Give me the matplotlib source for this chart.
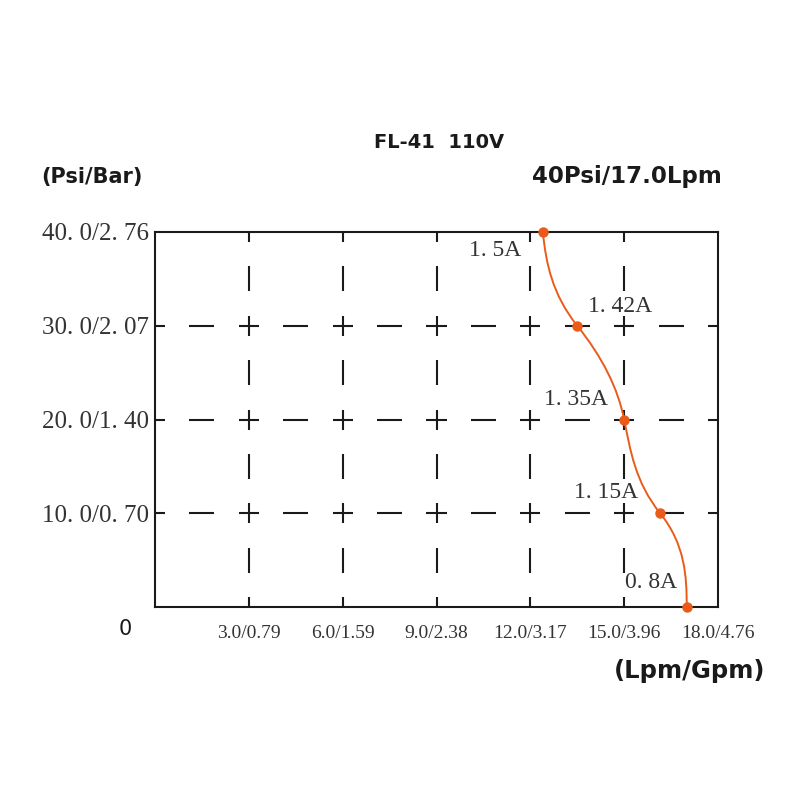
import numpy as np
import matplotlib
matplotlib.use('Agg')
import matplotlib.pyplot as plt
from matplotlib.path import Path
from matplotlib.patches import PathPatch

# pump curve data, top point first
flow_lpm = [12.4, 13.5, 15.0, 16.15, 17.0]
pressure_psi = [40, 30, 20, 10, 0]
amps = ['1. 5A', '1. 42A', '1. 35A', '1. 15A', '0. 8A']

x_ticks = [3, 6, 9, 12, 15, 18]
x_labels = ['3.0/0.79', '6.0/1.59', '9.0/2.38', '12.0/3.17', '15.0/3.96', '18.0/4.76']
y_ticks = [10, 20, 30, 40]
y_labels = ['10. 0/0. 70', '20. 0/1. 40', '30. 0/2. 07', '40. 0/2. 76']

ORANGE = '#EA5B1A'
INK = '#1a1a1a'
GREY = '#333333'

fig = plt.figure(figsize=(8, 8), dpi=100)
ax = fig.add_axes([155/800, 1-607/800, 563/800, 375/800])
ax.set_xlim(0, 18)
ax.set_ylim(0, 40)

for s in ax.spines.values():
    s.set_linewidth(1.5)
    s.set_color(INK)

# dashed grid with crosses at every intersection
px_x = 563/18.0   # pixels per Lpm
px_y = 375/40.0   # pixels per Psi
arm, half_dash = 10, 12.5  # in pixels
gkw = dict(color=INK, lw=1.5, solid_capstyle='butt', zorder=1)
for yv in y_ticks[:-1]:
    for cx in range(0, 19, 3):
        ax.plot([cx - arm/px_x, cx + arm/px_x], [yv, yv], **gkw)
    for mx in np.arange(1.5, 18, 3):
        ax.plot([mx - half_dash/px_x, mx + half_dash/px_x], [yv, yv], **gkw)
for xv in x_ticks[:-1]:
    for cy in range(0, 41, 10):
        ax.plot([xv, xv], [cy - arm/px_y, cy + arm/px_y], **gkw)
    for my in range(5, 40, 10):
        ax.plot([xv, xv], [my - half_dash/px_y, my + half_dash/px_y], **gkw)

# smooth curve: cubic pieces of x(y), slopes (pixel dx per pixel dy)
slope_px = [0.1, 0.8, 0.2, 0.8, 0.0]
m = [-s * px_y / px_x for s in slope_px]
verts = [(flow_lpm[0], pressure_psi[0])]
codes = [Path.MOVETO]
for i in range(len(flow_lpm) - 1):
    ya, yb = pressure_psi[i], pressure_psi[i+1]
    xa, xb = flow_lpm[i], flow_lpm[i+1]
    h = yb - ya
    verts += [(xa + m[i]*h/3, ya + h/3), (xb - m[i+1]*h/3, yb - h/3), (xb, yb)]
    codes += [Path.CURVE4] * 3
ax.add_patch(PathPatch(Path(verts, codes), fill=False, edgecolor=ORANGE, lw=1.4, zorder=3, clip_on=False))
ax.plot(flow_lpm, pressure_psi, 'o', color=ORANGE, ms=6.5, zorder=4, clip_on=False)

offsets = [(-48, -18), (43, 19), (-48, 20), (-54, 21), (-36, 25)]
for x, y, lab, off in zip(flow_lpm, pressure_psi, amps, offsets):
    ax.annotate(lab, xy=(x, y), xytext=off, textcoords='offset pixels',
                ha='center', va='center', fontsize=17, family='Liberation Serif', color=GREY)

ax.set_xticks(x_ticks)
ax.set_xticklabels(x_labels, family='Liberation Serif', fontsize=14, color=GREY)
ax.set_yticks(y_ticks)
ax.set_yticklabels(y_labels, family='Liberation Serif', fontsize=18, color=GREY)
ax.tick_params(axis='both', length=0)
ax.tick_params(axis='x', pad=13)
ax.tick_params(axis='y', pad=4)

fig.text(439/800, 1-142/800, 'FL-41  110V', ha='center', va='center', fontsize=14, fontweight='bold', color=INK)
fig.text(41/800, 1-177/800, '(Psi/Bar)', ha='left', va='center', fontsize=15, fontweight='bold', color=INK)
fig.text(722/800, 1-177/800, '40Psi/17.0Lpm', ha='right', va='center', fontsize=16.5, fontweight='bold', color=INK)
fig.text(765/800, 1-671/800, '(Lpm/Gpm)', ha='right', va='center', fontsize=17.5, fontweight='bold', color=INK)
fig.text(125/800, 1-629/800, '0', ha='center', va='center', fontsize=15, color=INK)

fig.savefig('out.png', dpi=100, facecolor='white')
